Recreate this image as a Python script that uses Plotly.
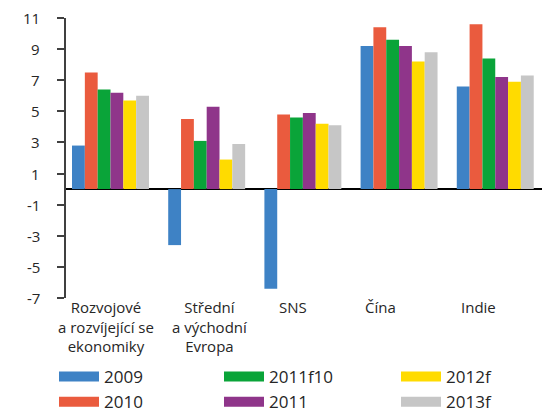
import plotly.graph_objects as go

# Regions shown under the groups (Czech labels, line breaks included)
regions = [
    "Rozvojové<br>a rozvíjející se<br>ekonomiky",
    "Střední<br>a východní<br>Evropa",
    "SNS",
    "Čína",
    "Indie",
]

# GDP growth, % per year
g2009 = [2.8, -3.6, -6.4, 9.2, 6.6]
g2010 = [7.5, 4.5, 4.8, 10.4, 10.6]
g2011f10 = [6.4, 3.1, 4.6, 9.6, 8.4]
g2011 = [6.2, 5.3, 4.9, 9.2, 7.2]
g2012f = [5.7, 1.9, 4.2, 8.2, 6.9]
g2013f = [6.0, 2.9, 4.1, 8.8, 7.3]

series_names = ["2009", "2010", "2011f10", "2011", "2012f", "2013f"]
series_values = [g2009, g2010, g2011f10, g2011, g2012f, g2013f]
series_colors = ["#3E82C5", "#EA5B3E", "#0AA439", "#8F358A", "#FFDB00", "#C6C6C6"]
legend_slots = ["legend", "legend", "legend2", "legend2", "legend3", "legend3"]

y_ticks = [11, 9, 7, 5, 3, 1, -1, -3, -5, -7]

# horizontal nudges (px) of the region labels under each group
label_nudge = [-5, 3, -10, -19, -17]

FONT = "Open Sans"
TEXT = "#262626"

fig = go.Figure()

for name, vals, col in zip(series_names, series_values, series_colors):
    fig.add_trace(go.Bar(
        x=regions, y=vals, name=name,
        marker=dict(color=col, line=dict(width=0)),
        showlegend=False,
    ))

# Legend entries drawn as wide swatches, arranged in three columns
for name, col, lg in zip(series_names, series_colors, legend_slots):
    fig.add_trace(go.Scatter(
        x=[regions[0]], y=[None], name=name, mode="lines",
        line=dict(color=col, width=10),
        legend=lg, showlegend=True, hoverinfo="skip",
    ))

legend_common = dict(
    xref="container", yref="container",
    xanchor="left", yanchor="top",
    bgcolor="rgba(0,0,0,0)", borderwidth=0,
    font=dict(family=FONT, size=17, color=TEXT),
    orientation="v", tracegroupgap=0, itemwidth=40,
)

# region labels under the bar groups
annotations = [
    dict(
        x=reg, y=0, xref="x", yref="paper",
        xanchor="center", yanchor="top", align="center",
        xshift=dx, yshift=3, showarrow=False,
        text=reg, font=dict(family=FONT, size=15, color=TEXT),
    )
    for reg, dx in zip(regions, label_nudge)
]

# value labels beside the y-axis ticks
annotations += [
    dict(
        x=0, y=v, xref="paper", yref="y",
        xanchor="right", yanchor="middle",
        xshift=-24, showarrow=False,
        text=str(v), font=dict(family=FONT, size=15, color=TEXT),
    )
    for v in y_ticks
]

fig.update_layout(
    width=542, height=412,
    margin=dict(l=66, r=0, t=18, b=114, autoexpand=False),
    paper_bgcolor="white", plot_bgcolor="white",
    barmode="group", bargap=0.2, bargroupgap=0,
    font=dict(family=FONT, color=TEXT),
    legend=dict(x=54 / 542, y=1 - 359 / 412, **legend_common),
    legend2=dict(x=219 / 542, y=1 - 359 / 412, **legend_common),
    legend3=dict(x=396 / 542, y=1 - 359 / 412, **legend_common),
    annotations=annotations,
    xaxis=dict(
        type="category",
        range=[-0.4626, 4.486],
        showline=False, showgrid=False, zeroline=False,
        ticks="", showticklabels=False,
    ),
    yaxis=dict(
        range=[-7, 11],
        tickvals=y_ticks,
        showticklabels=False,
        showgrid=False,
        showline=True, linecolor="#404040", linewidth=2,
        ticks="outside", ticklen=7, tickwidth=2, tickcolor="#404040",
        zeroline=True, zerolinecolor="#000000", zerolinewidth=2,
    ),
)

fig.write_html("out.html")
